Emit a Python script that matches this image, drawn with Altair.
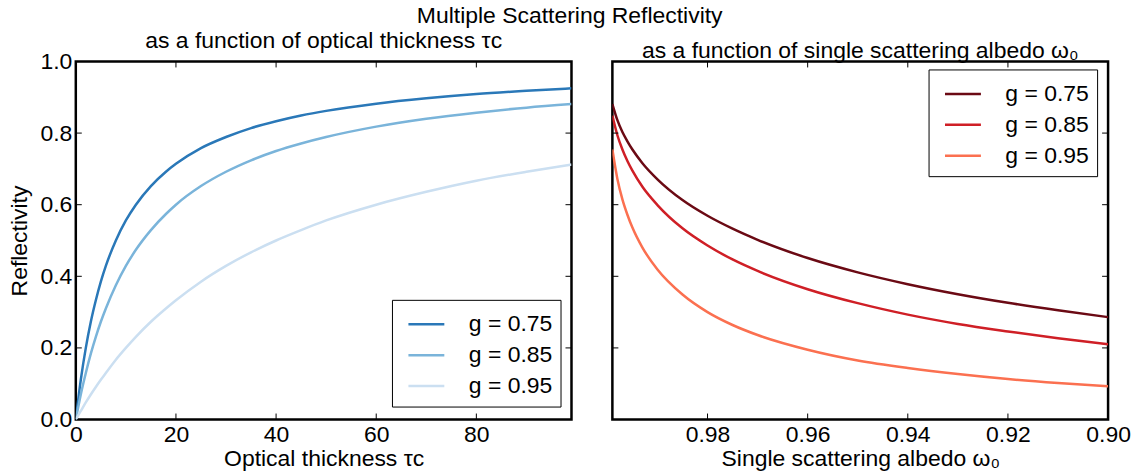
import altair as alt
import pandas as pd

FONT = "Liberation Sans"
FS = 23
W, H = 497, 359

# ---- left panel: reflectivity vs optical thickness ----
tau = [0, 1, 2, 3, 4, 5, 6, 8, 10, 12, 15, 18, 20, 25, 30, 35, 40, 45, 50, 60, 70, 80, 90, 99]
r_tau_075 = [0, 0.111, 0.2, 0.273, 0.333, 0.385, 0.429, 0.5, 0.556, 0.6, 0.652, 0.692, 0.714,
             0.758, 0.789, 0.814, 0.833, 0.849, 0.862, 0.882, 0.897, 0.909, 0.918, 0.925]
r_tau_085 = [0, 0.07, 0.13, 0.184, 0.231, 0.273, 0.31, 0.375, 0.429, 0.474, 0.529, 0.574, 0.6,
             0.652, 0.692, 0.724, 0.75, 0.771, 0.789, 0.818, 0.84, 0.857, 0.871, 0.881]
r_tau_095 = [0, 0.024, 0.048, 0.07, 0.091, 0.111, 0.13, 0.167, 0.2, 0.231, 0.273, 0.31, 0.333,
             0.385, 0.429, 0.467, 0.5, 0.529, 0.556, 0.6, 0.636, 0.667, 0.692, 0.712]

# ---- right panel: reflectivity vs single scattering albedo ----
w0 = [0.999, 0.998, 0.997, 0.996, 0.995, 0.993, 0.99, 0.985, 0.98, 0.975, 0.97, 0.96,
      0.95, 0.94, 0.93, 0.92, 0.91, 0.90]
r_w_075 = [0.881, 0.836, 0.803, 0.777, 0.754, 0.716, 0.671, 0.613, 0.569, 0.533, 0.502, 0.451,
           0.411, 0.378, 0.350, 0.326, 0.305, 0.286]
r_w_085 = [0.849, 0.794, 0.754, 0.722, 0.695, 0.650, 0.599, 0.534, 0.486, 0.447, 0.415, 0.364,
           0.325, 0.293, 0.267, 0.246, 0.227, 0.210]
r_w_095 = [0.754, 0.672, 0.615, 0.572, 0.536, 0.480, 0.419, 0.349, 0.300, 0.264, 0.236, 0.195,
           0.165, 0.144, 0.127, 0.113, 0.102, 0.093]

series = ["g = 0.75", "g = 0.85", "g = 0.95"]
blues = ["#2a78b8", "#7ab4da", "#cbdff1"]
reds = ["#6b0a14", "#cf1f26", "#fb7050"]

tau_ticks = [20, 40, 60, 80]
w_ticks = [0.98, 0.96, 0.94, 0.92]
y_ticks = [0.2, 0.4, 0.6, 0.8]

left_df = pd.DataFrame({
    "tau": tau * 3,
    "R": r_tau_075 + r_tau_085 + r_tau_095,
    "g": [series[0]] * len(tau) + [series[1]] * len(tau) + [series[2]] * len(tau),
})
right_df = pd.DataFrame({
    "w": w0 * 3,
    "R": r_w_075 + r_w_085 + r_w_095,
    "g": [series[0]] * len(w0) + [series[1]] * len(w0) + [series[2]] * len(w0),
})


def legend(x, y):
    return alt.Legend(
        title=None, orient="none", legendX=x, legendY=y,
        strokeColor="black", fillColor="white", cornerRadius=0, padding=8,
        symbolType="M-1.2,0H1.2", symbolSize=900, symbolStrokeWidth=2.5,
        symbolOffset=10, labelOffset=26, rowPadding=2,
        labelFont=FONT, labelFontSize=FS, labelColor="black",
    )


def tick_layers(df_x, xfield, xscale, df_y, yscale):
    lw = 1
    xb = alt.Chart(df_x).mark_rule(color="black", strokeWidth=lw).encode(
        x=alt.X(f"{xfield}:Q", scale=xscale), y=alt.value(H), y2=alt.value(H - 6))
    xt = alt.Chart(df_x).mark_rule(color="black", strokeWidth=lw).encode(
        x=alt.X(f"{xfield}:Q", scale=xscale), y=alt.value(0), y2=alt.value(6))
    yl = alt.Chart(df_y).mark_rule(color="black", strokeWidth=lw).encode(
        y=alt.Y("v:Q", scale=yscale), x=alt.value(0), x2=alt.value(6))
    yr = alt.Chart(df_y).mark_rule(color="black", strokeWidth=lw).encode(
        y=alt.Y("v:Q", scale=yscale), x=alt.value(W), x2=alt.value(W - 6))
    return [xb, xt, yl, yr]


yscale = alt.Scale(domain=[0, 1], nice=False, zero=False)
tau_scale = alt.Scale(domain=[0, 99], nice=False, zero=False)
w_scale = alt.Scale(domain=[0.90, 0.999], reverse=True, nice=False, zero=False)

left_lines = alt.Chart(left_df).mark_line(strokeWidth=2.5, interpolate="monotone", clip=True).encode(
    x=alt.X("tau:Q", scale=tau_scale,
            axis=alt.Axis(title="Optical thickness τc", values=[0, 20, 40, 60, 80],
                          format="d", labelFlush=False, labelPadding=4, titlePadding=1)),
    y=alt.Y("R:Q", scale=yscale,
            axis=alt.Axis(title="Reflectivity", values=[0, 0.2, 0.4, 0.6, 0.8, 1.0],
                          format=".1f", labelFlush=False, labelPadding=4, titlePadding=8)),
    color=alt.Color("g:N", scale=alt.Scale(domain=series, range=blues), legend=legend(317, 239)),
)

right_lines = alt.Chart(right_df).mark_line(strokeWidth=2.5, interpolate="monotone", clip=True).encode(
    x=alt.X("w:Q", scale=w_scale,
            axis=alt.Axis(title="Single scattering albedo ω₀", values=[0.98, 0.96, 0.94, 0.92, 0.90],
                          format=".2f", labelFlush=False, labelPadding=4, titlePadding=1)),
    y=alt.Y("R:Q", scale=yscale, axis=None),
    color=alt.Color("g:N", scale=alt.Scale(domain=series, range=reds), legend=legend(317, 8)),
)

left = alt.layer(
    left_lines,
    *tick_layers(pd.DataFrame({"t": tau_ticks}), "t", tau_scale, pd.DataFrame({"v": y_ticks}), yscale),
).properties(
    width=W, height=H,
    title=alt.TitleParams("as a function of optical thickness τc", fontSize=FS, font=FONT,
                          fontWeight="normal", color="black", offset=-2),
)

right = alt.layer(
    right_lines,
    *tick_layers(pd.DataFrame({"t": w_ticks}), "t", w_scale, pd.DataFrame({"v": y_ticks}), yscale),
).properties(
    width=W, height=H,
    title=alt.TitleParams("as a function of single scattering albedo ω₀", fontSize=FS, font=FONT,
                          fontWeight="normal", color="black", offset=-2),
)

chart = alt.hconcat(left, right, spacing=37).resolve_scale(color="independent").resolve_legend(
    color="independent"
).properties(
    title=alt.TitleParams("Multiple Scattering Reflectivity", fontSize=FS, font=FONT,
                          fontWeight="normal", color="black", anchor="middle", offset=0),
    padding={"left": 7, "top": 4, "right": 5, "bottom": 5},
    background="white",
).configure_view(
    stroke="black", strokeWidth=2.5
).configure_axis(
    labelFont=FONT, labelFontSize=FS, labelColor="black",
    titleFont=FONT, titleFontSize=FS, titleFontWeight="normal", titleColor="black",
    grid=False, ticks=False, domain=False,
)

chart.save("out.html", embed_options={"renderer": "svg", "actions": False})
